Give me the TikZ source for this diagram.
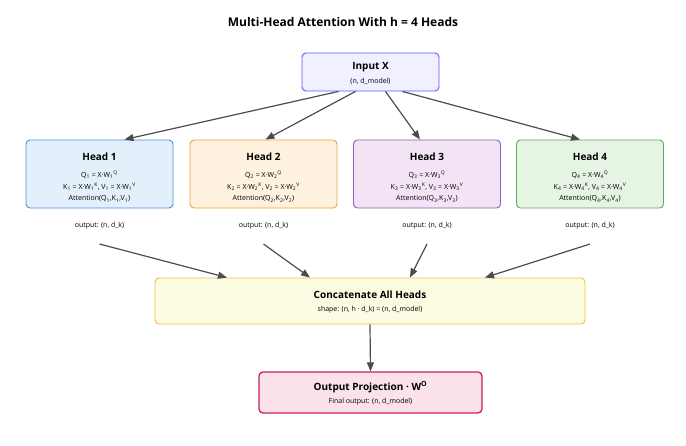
\documentclass[tikz,border=0pt]{standalone}
\usepackage{fontspec}
\setmainfont{Open Sans}
\usetikzlibrary{arrows.meta}
\begin{document}
\begin{tikzpicture}[x=1pt,y=-1pt,
  box/.style={draw,rounded corners=4pt,line width=0.9pt,inner sep=0pt,align=center},
  ttl/.style={font=\fontsize{10}{12}\selectfont\bfseries},
  sm/.style={font=\fontsize{7}{9}\selectfont},
  arr/.style={draw=black!70,line width=1.2pt,-{Triangle[length=9pt,width=7pt]}}]
\useasboundingbox (0,0) rectangle (686,445);
\node[font=\fontsize{12}{14}\selectfont\bfseries] (title) at (343,22) {Multi-Head Attention With h = 4 Heads};
\node[box,draw=blue!65,fill=blue!6,minimum width=137pt,minimum height=38pt] (in) at (370.5,72) {};
\node[ttl] (inT) at (370.5,67) {Input X};
\node[sm] (inS) at (370.5,81) {(n, d\_model)};
\def\headbox#1#2#3#4{%
  \node[box,draw=#3,fill=#4,minimum width=147pt,minimum height=68pt] (h#1) at (#2,174) {};
  \node[ttl] (h#1t) at (#2,157) {Head #1};
  \node[sm] (h#1q) at (#2,175) {Q\textsubscript{#1} = X·W\textsubscript{#1}\textsuperscript{Q}};
  \node[sm] (h#1k) at (#2,187) {K\textsubscript{#1} = X·W\textsubscript{#1}\textsuperscript{K}, V\textsubscript{#1} = X·W\textsubscript{#1}\textsuperscript{V}};
  \node[sm] (h#1a) at (#2,199) {Attention(Q\textsubscript{#1},K\textsubscript{#1},V\textsubscript{#1})};
  \node[sm] (o#1) at (#2,226) {output: (n, d\_k)};
  \coordinate (c#1) at (#2,244);}
\definecolor{b1}{HTML}{4A90D9}\definecolor{f1}{HTML}{E3F0FB}
\definecolor{b2}{HTML}{F0A040}\definecolor{f2}{HTML}{FEF1DE}
\definecolor{b3}{HTML}{9B59B6}\definecolor{f3}{HTML}{F3E4F5}
\definecolor{b4}{HTML}{5FA85F}\definecolor{f4}{HTML}{E6F4E4}
\headbox{1}{99.5}{b1}{f1}
\headbox{2}{263.5}{b2}{f2}
\headbox{3}{427}{b3}{f3}
\headbox{4}{590}{b4}{f4}
\definecolor{bc}{HTML}{F0C040}\definecolor{fc}{HTML}{FEFBE3}
\node[box,draw=bc,fill=fc,minimum width=430pt,minimum height=46pt] (cat) at (370,301) {};
\node[ttl] (catT) at (370,295) {Concatenate All Heads};
\node[sm] (catS) at (370,310) {shape: (n, h · d\_k) = (n, d\_model)};
\definecolor{bo}{HTML}{C8205A}\definecolor{fo}{HTML}{FBE1EA}
\node[box,draw=bo,fill=fo,minimum width=223pt,minimum height=41pt,line width=1.3pt] (out) at (370.5,392.5) {};
\node[ttl] (outT) at (370.5,387) {Output Projection · W\textsuperscript{O}};
\node[sm] (outS) at (370.5,402) {Final output: (n, d\_model)};
\path (in.south)+(-32,0) coordinate (s1) (in.south)+(-15,0) coordinate (s2)
      (in.south)+(15,0) coordinate (s3) (in.south)+(32,0) coordinate (s4)
      (h1.north)+(25,0) coordinate (e1) (h2.north)+(2,0) coordinate (e2)
      (h3.north)+(-7,0) coordinate (e3) (h4.north)+(-10,0) coordinate (e4)
      (cat.north)+(-143,0) coordinate (t1) (cat.north)+(-60,0) coordinate (t2)
      (cat.north)+(115,0) coordinate (t4) (cat.north)+(40,0) coordinate (t3);
\foreach \i in {1,...,4}{\draw[arr] (s\i) -- (e\i);}
\foreach \i in {1,...,4}{\draw[arr] (c\i) -- (t\i);}
\draw[arr] (cat.south) -- (out.north);
\end{tikzpicture}
\end{document}
